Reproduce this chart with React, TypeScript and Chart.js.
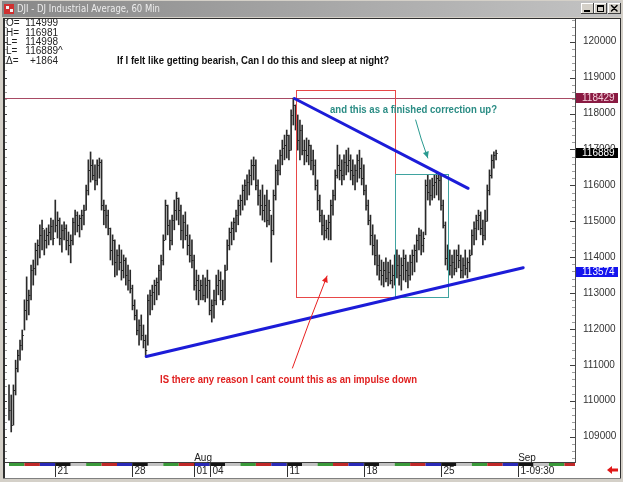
import React, { useEffect, useRef } from 'react';
import { Chart, registerables } from 'chart.js';
Chart.register(...registerables);

// ---- 60-minute bars, DJ Industrial Average (values x10 as shown on the axis) ----
const highs = [
  110440,110160,110440,111130,111410,111690,111970,112810,113450,113080,
  113780,113920,114390,114480,114900,115030,114760,114810,114900,115090,
  115030,115590,115260,115090,114900,114980,114900,114700,114620,115090,
  115310,115260,115170,115310,115450,116010,116710,116930,116710,116570,
  116710,116760,116710,115590,115450,115310,114810,114620,114480,114200,
  114340,114200,114060,113980,113780,113640,113220,112810,112530,112250,
  112390,112110,111830,112950,113080,113220,113360,113420,113780,114060,
  114620,115590,115450,115030,115170,115590,115810,115650,115450,115170,
  115260,114900,114620,114480,114060,113640,113500,113360,113500,113420,
  113640,113360,112810,113080,113500,113640,113590,113360,113780,114480,
  114810,114980,115090,115310,115590,115730,116010,116150,116290,116430,
  116710,116790,116710,116150,115870,116010,115730,115870,115590,115170,
  115870,116570,116710,116980,117260,117400,117540,117400,118100,118430,
  118240,117960,117820,117680,117260,117320,117260,117120,116980,116710,
  116150,115730,115310,115170,115030,115170,115590,115870,116430,117120,
  116850,116710,116850,116980,117040,116850,116710,116570,116850,116980,
  116760,116570,116010,115590,115170,114900,114620,114480,114060,113920,
  113860,113980,113860,113920,113780,114060,114200,114060,113980,114200,
  114060,113860,114060,114200,114340,114620,114810,114760,114700,116150,
  116290,116150,116200,116290,116340,116290,116290,115590,114980,114340,
  114200,114060,114200,114200,114340,114060,113980,114200,113980,114200,
  114760,114980,115170,115310,115260,115030,115310,116010,116430,116850,
  116930,116980,
];
const lows = [
  109460,109130,109320,110160,110800,111130,111410,111970,112250,112390,
  112810,113220,113500,113780,113980,114200,114060,114250,114340,114480,
  114340,114700,114530,114340,114140,114480,114200,114060,113840,114340,
  114620,114700,114560,114760,114900,115310,115730,116090,116150,115870,
  116010,116200,115310,114900,114810,114620,113920,113780,113450,113500,
  113640,113360,113420,113220,113080,113000,112530,112250,111830,111550,
  111690,111470,111220,111550,112390,112530,112670,112810,112950,113360,
  113780,114480,114620,114200,114340,114760,115030,114900,114480,114250,
  114480,114060,113860,113700,113080,112810,112670,112810,112810,112750,
  112860,112390,112190,112300,112670,112950,112810,112670,112810,113640,
  114200,114340,114480,114700,114900,115170,115310,115450,115590,115730,
  116010,116150,115870,115450,115170,115030,114980,114840,114900,113860,
  114620,115590,116010,116290,116570,116710,116760,116710,116980,117680,
  117540,116980,116710,116850,116570,116650,116570,116430,116290,115870,
  115310,114980,114620,114480,114530,114480,114480,115170,115590,116200,
  116150,116010,116150,116290,116370,116150,116010,115870,116090,116200,
  116010,115730,115310,114900,114340,114060,113780,113500,113360,113220,
  113170,113310,113200,113250,113140,113220,113420,113220,113080,113360,
  113310,113140,113360,113500,113590,113860,114200,114060,114140,114620,
  115590,115450,115590,115650,115730,115590,115310,114810,113780,113640,
  113500,113420,113500,113590,113700,113420,113420,113500,113420,113590,
  114060,114340,114480,114760,114620,114340,114480,115000,115730,116200,
  116480,116710,
];
const closes = [
  109740,109320,110300,110910,111270,111550,111830,112530,112810,112950,
  113640,113700,114200,114340,114620,114810,114480,114620,114700,114870,
  114530,114900,115030,114530,114760,114810,114480,114340,114480,114980,
  115170,114900,115090,115170,115310,115870,116430,116570,116290,116150,
  116570,116650,115450,115310,115170,114810,114200,114480,113860,114060,
  113860,113640,113920,113500,113360,113140,112670,112390,111970,112110,
  111830,111690,111410,112810,112950,113030,113220,113310,113640,113920,
  114480,115450,114900,114480,115030,115310,115650,115310,114760,114980,
  114620,114340,114060,113920,113220,113360,113080,113220,112950,113220,
  113360,112530,112670,112810,113220,113360,113080,112810,113640,114340,
  114700,114810,114980,115170,115450,115590,115870,116010,116090,116290,
  116570,116570,116010,115730,115450,115310,115450,115030,115310,114760,
  115730,116430,116430,116850,117040,117120,117400,116980,117960,118240,
  117680,117260,117540,116980,116980,116850,117120,116710,116570,116010,
  115590,115170,114900,114760,114810,114980,115450,115730,116290,116570,
  116430,116290,116650,116570,116710,116430,116290,116430,116710,116480,
  116200,115870,115450,115030,114620,114340,114060,113780,113640,113500,
  113640,113420,113590,113360,113500,113920,113780,113500,113780,113980,
  113640,113500,113860,114060,114200,114480,114620,114340,114530,116010,
  115810,115730,116010,116090,116200,116150,115450,114900,113980,114060,
  113780,113860,113700,114060,113920,113640,113780,113700,113860,114060,
  114620,114810,115030,115170,114810,114620,115000,115870,116290,116710,
  116850,116890,
];

const yTickValues = [109000, 110000, 111000, 112000, 113000, 114000, 115000, 116000, 117000, 118000, 119000, 120000];
const xTickIdx = [21, 56, 84, 91, 126, 161, 196, 231];
const xTickLabels = ['21', '28', '01', '04', '11', '18', '25', '1-09:30'];
const monthIdx = [84, 231];
const monthLabels = ['Aug', 'Sep'];
const dayColors = ['#141414', '#c2c2c2', '#3a9a3a', '#c02828', '#2a2ab8']; // Mon..Fri
const firstWeekday = 2; // first session is a Wednesday
const barsPerDay = 7;

const headerLabels = ['O=', 'H=', 'L=', 'L=', '\u0394='];
const headerValues = ['114999', '116981', '114998', '116889', '+1864'];
const headerSuffix = ['', '', '', '^', ''];

const resistanceLevel = 118429;
const lastPrice = 116889;
const supportNow = 113574;

const FONT = "'Liberation Sans', Arial, sans-serif";
const NARROW = "'Liberation Sans Narrow', 'Liberation Sans', Arial, sans-serif";

// annotation anchors in data units: [index, value]
const redBox = [130.0, 118655, 175.0, 112889];
const tealBox = [175.0, 116329, 199.2, 112889];
const supportLine = [62.3, 111232, 233.3, 113705];
const resistLine = [129.5, 118418, 208.3, 115917];
const redArrow = [128.6, 110911, 144.3, 113474];
const tealArrow = [184.5, 117819, 190.0, 116761];

function arrowHead(ctx: CanvasRenderingContext2D, x1: number, y1: number, x2: number, y2: number, size: number) {
  const a = Math.atan2(y2 - y1, x2 - x1);
  ctx.beginPath();
  ctx.moveTo(x2, y2);
  ctx.lineTo(x2 - size * Math.cos(a - 0.45), y2 - size * Math.sin(a - 0.45));
  ctx.lineTo(x2 - size * Math.cos(a + 0.45), y2 - size * Math.sin(a + 0.45));
  ctx.closePath();
  ctx.fill();
}

const chromePlugin = {
  id: 'chrome',
  beforeDraw(chart: any) {
    const ctx: CanvasRenderingContext2D = chart.ctx;
    const W = chart.width, H = chart.height;
    ctx.save();
    ctx.fillStyle = '#d4d0c8';
    ctx.fillRect(0, 0, W, H);
    const g = ctx.createLinearGradient(0, 0, W, 0);
    g.addColorStop(0, '#888888');
    g.addColorStop(1, '#c4c4c4');
    ctx.fillStyle = g;
    ctx.fillRect(2, 1, W - 4, 16);
    ctx.fillStyle = '#ffffff';
    ctx.fillRect(4, 18, 617, 460);
    ctx.fillStyle = '#303030';
    ctx.fillRect(4, 18, 617, 1);
    ctx.fillRect(3, 18, 2, 460);
    ctx.fillRect(620, 18, 1, 460);
    ctx.fillStyle = '#808080';
    ctx.fillRect(3, 478, 618, 1);
    ctx.restore();
  },
  beforeDatasetsDraw(chart: any) {
    const ctx: CanvasRenderingContext2D = chart.ctx;
    const { left, right } = chart.chartArea;
    const y = chart.scales.y.getPixelForValue(resistanceLevel);
    ctx.save();
    ctx.strokeStyle = '#a84a64';
    ctx.lineWidth = 1;
    ctx.beginPath();
    ctx.moveTo(left, Math.round(y) + 0.5);
    ctx.lineTo(right, Math.round(y) + 0.5);
    ctx.stroke();
    ctx.restore();
  },
  afterDatasetsDraw(chart: any) {
    const ctx: CanvasRenderingContext2D = chart.ctx;
    const xs = chart.scales.x, ys = chart.scales.y;
    const ca = chart.chartArea;
    ctx.save();
    // close ticks
    ctx.strokeStyle = '#222222';
    ctx.lineWidth = 1;
    ctx.beginPath();
    closes.forEach((c, i) => {
      const x = xs.getPixelForValue(i);
      const y = Math.round(ys.getPixelForValue(c)) + 0.5;
      ctx.moveTo(x, y);
      ctx.lineTo(x + 1.6, y);
    });
    ctx.stroke();

    // y axis tick marks
    for (let v = 108400; v <= 120600; v += 200) {
      const y = Math.round(ys.getPixelForValue(v)) + 0.5;
      const major = v % 1000 === 0;
      ctx.strokeStyle = major ? '#404040' : '#a0a0a0';
      ctx.beginPath();
      ctx.moveTo(ca.right - (major ? 5 : 3), y);
      ctx.lineTo(ca.right, y);
      ctx.moveTo(ca.left, y);
      ctx.lineTo(ca.left + 2, y);
      ctx.stroke();
    }

    // day colour strip
    const stripTop = ca.bottom + 1;
    for (let d = 0; d < 40; d++) {
      const x0 = Math.max(ca.left, xs.getPixelForValue(d * barsPerDay));
      const x1 = Math.min(ca.right, xs.getPixelForValue((d + 1) * barsPerDay));
      if (x1 <= x0) continue;
      ctx.fillStyle = dayColors[(d + firstWeekday) % 5];
      ctx.fillRect(x0, stripTop, x1 - x0, 3);
    }
    ctx.fillStyle = '#404040';
    ctx.fillRect(ca.left, stripTop - 1, ca.right - ca.left, 1);

    // x ticks & labels
    ctx.font = `10px ${FONT}`;
    ctx.textBaseline = 'middle';
    ctx.textAlign = 'left';
    xTickIdx.forEach((idx, k) => {
      const x = Math.round(xs.getPixelForValue(idx)) + 0.5;
      ctx.strokeStyle = '#303030';
      ctx.beginPath();
      ctx.moveTo(x, stripTop);
      ctx.lineTo(x, 477);
      ctx.stroke();
      ctx.fillStyle = '#222';
      ctx.fillText(xTickLabels[k], x + 2, 471.5);
    });
    monthIdx.forEach((idx, k) => {
      const x = xs.getPixelForValue(idx);
      ctx.fillStyle = '#222';
      ctx.fillText(monthLabels[k], x, 458.5);
    });

    // rectangles
    const box = (b: number[], color: string) => {
      const x0 = Math.round(xs.getPixelForValue(b[0])) + 0.5;
      const y0 = Math.round(ys.getPixelForValue(b[1])) + 0.5;
      const x1 = Math.round(xs.getPixelForValue(b[2])) + 0.5;
      const y1 = Math.round(ys.getPixelForValue(b[3])) + 0.5;
      ctx.strokeStyle = color;
      ctx.lineWidth = 1;
      ctx.strokeRect(x0, y0, x1 - x0, y1 - y0);
    };
    box(redBox, '#e84848');
    box(tealBox, '#3fa3a0');

    // trend lines
    const seg = (s: number[], color: string, w: number) => {
      ctx.strokeStyle = color;
      ctx.lineWidth = w;
      ctx.lineCap = 'round';
      ctx.beginPath();
      ctx.moveTo(xs.getPixelForValue(s[0]), ys.getPixelForValue(s[1]));
      ctx.lineTo(xs.getPixelForValue(s[2]), ys.getPixelForValue(s[3]));
      ctx.stroke();
    };
    seg(supportLine, '#1c1cd8', 3);
    seg(resistLine, '#1c1cd8', 3);

    // arrows
    const arrow = (s: number[], color: string) => {
      const x1 = xs.getPixelForValue(s[0]), y1 = ys.getPixelForValue(s[1]);
      const x2 = xs.getPixelForValue(s[2]), y2 = ys.getPixelForValue(s[3]);
      ctx.strokeStyle = color;
      ctx.fillStyle = color;
      ctx.lineWidth = 1;
      ctx.beginPath();
      ctx.moveTo(x1, y1);
      ctx.quadraticCurveTo((x1 + x2) / 2 - 1, (y1 + y2) / 2, x2, y2);
      ctx.stroke();
      arrowHead(ctx, x1, y1, x2, y2, 7);
    };
    arrow(redArrow, '#e82020');
    arrow(tealArrow, '#2a9a90');

    // annotation texts
    ctx.textAlign = 'left';
    ctx.textBaseline = 'middle';
    ctx.font = `bold 11px ${NARROW}`;
    ctx.fillStyle = '#111111';
    ctx.fillText('If I felt like getting bearish, Can I do this and sleep at night?', 117, 61, 272);
    ctx.fillStyle = '#2a8c84';
    ctx.fillText('and this as a finished correction up?', 330, 110, 167);
    ctx.fillStyle = '#e02020';
    ctx.fillText('IS there any reason I cant count this as an impulse down', 160, 380, 257);

    // OHLC header
    ctx.font = `10px ${FONT}`;
    ctx.fillStyle = '#222222';
    headerLabels.forEach((lab, k) => {
      const y = 23.5 + k * 9.4;
      ctx.textAlign = 'left';
      ctx.fillText(lab, 6, y);
      ctx.textAlign = 'right';
      ctx.fillText(headerValues[k], 58, y);
      if (headerSuffix[k]) {
        ctx.textAlign = 'left';
        ctx.fillText(headerSuffix[k], 58, y);
      }
    });

    // price flags on the axis
    const flag = (v: number, bg: string, fg: string) => {
      const y = Math.round(ys.getPixelForValue(v));
      ctx.fillStyle = bg;
      ctx.fillRect(ca.right + 1, y - 5, 42, 10);
      ctx.fillStyle = fg;
      ctx.textAlign = 'left';
      ctx.font = `10px ${FONT}`;
      ctx.fillText(String(v), ca.right + 7, y + 0.5);
    };
    flag(resistanceLevel, '#8a1a42', '#f4d0dc');
    flag(lastPrice, '#000000', '#ffffff');
    flag(supportNow, '#1414ee', '#ffffff');

    // bottom-right red arrow
    ctx.fillStyle = '#e01818';
    ctx.beginPath();
    ctx.moveTo(607, 470);
    ctx.lineTo(612, 466);
    ctx.lineTo(612, 468.5);
    ctx.lineTo(618, 468.5);
    ctx.lineTo(618, 471.5);
    ctx.lineTo(612, 471.5);
    ctx.lineTo(612, 474);
    ctx.closePath();
    ctx.fill();

    // title bar contents
    ctx.fillStyle = '#d03030';
    ctx.fillRect(4, 4, 10, 10);
    ctx.fillStyle = '#f0f0f0';
    ctx.fillRect(6, 6, 3, 3);
    ctx.fillRect(10, 9, 3, 3);
    ctx.font = `11px 'DejaVu Sans', ${FONT}`;
    ctx.fillStyle = '#ececec';
    ctx.textAlign = 'left';
    ctx.fillText('DJI - DJ Industrial Average, 60 Min', 17, 9.5, 143);
    const btn = (x: number, glyph: string) => {
      ctx.fillStyle = '#d4d0c8';
      ctx.fillRect(x, 3, 13, 11);
      ctx.fillStyle = '#ffffff';
      ctx.fillRect(x, 3, 13, 1);
      ctx.fillRect(x, 3, 1, 11);
      ctx.fillStyle = '#404040';
      ctx.fillRect(x, 13, 13, 1);
      ctx.fillRect(x + 12, 3, 1, 11);
      ctx.fillStyle = '#000';
      if (glyph === '_') ctx.fillRect(x + 3, 10, 6, 2);
      if (glyph === 'o') { ctx.strokeStyle = '#000'; ctx.lineWidth = 1; ctx.strokeRect(x + 3.5, 5.5, 6, 6); ctx.fillRect(x + 3, 5, 7, 2); }
      if (glyph === 'x') {
        ctx.strokeStyle = '#000'; ctx.lineWidth = 1.5;
        ctx.beginPath(); ctx.moveTo(x + 3.5, 5.5); ctx.lineTo(x + 9, 11); ctx.moveTo(x + 9, 5.5); ctx.lineTo(x + 3.5, 11); ctx.stroke();
      }
    };
    btn(581, '_');
    btn(594, 'o');
    btn(608, 'x');
    ctx.restore();
  },
};

export default function App() {
  const ref = useRef<HTMLCanvasElement | null>(null);
  useEffect(() => {
    document.body.style.margin = '0';
    const canvas = ref.current!;
    const data = highs.map((h, i) => ({ x: i, y: [lows[i], h] }));
    const chart = new Chart(canvas, {
      type: 'bar',
      data: {
        datasets: [
          {
            data: data as any,
            backgroundColor: '#2a2a2a',
            borderWidth: 0,
            barThickness: 1,
            grouped: false,
          } as any,
        ],
      },
      options: {
        animation: false,
        responsive: false,
        events: [],
        layout: { padding: { left: 5, right: 3, top: 19, bottom: 20 } },
        plugins: { legend: { display: false }, tooltip: { enabled: false }, title: { display: false } },
        scales: {
          x: { type: 'linear', min: -1.82, max: 256.8, display: false, offset: false },
          y: {
            position: 'right',
            min: 108293,
            max: 120633,
            grid: { display: false, drawTicks: false },
            border: { display: true, color: '#505050', width: 1 },
            afterBuildTicks: (s: any) => {
              s.ticks = yTickValues.map((v) => ({ value: v }));
            },
            ticks: {
              padding: 8,
              color: '#333333',
              font: { family: FONT, size: 10 },
              callback: (v: any) => String(v),
            },
            afterFit: (s: any) => {
              s.width = 45;
            },
          } as any,
        },
      },
      plugins: [chromePlugin],
    });
    return () => chart.destroy();
  }, []);
  return (
    <div style={{ position: 'fixed', left: 0, top: 0, width: 623, height: 482 }}>
      <canvas ref={ref} width={623} height={482} style={{ display: 'block', width: 623, height: 482 }} />
    </div>
  );
}
